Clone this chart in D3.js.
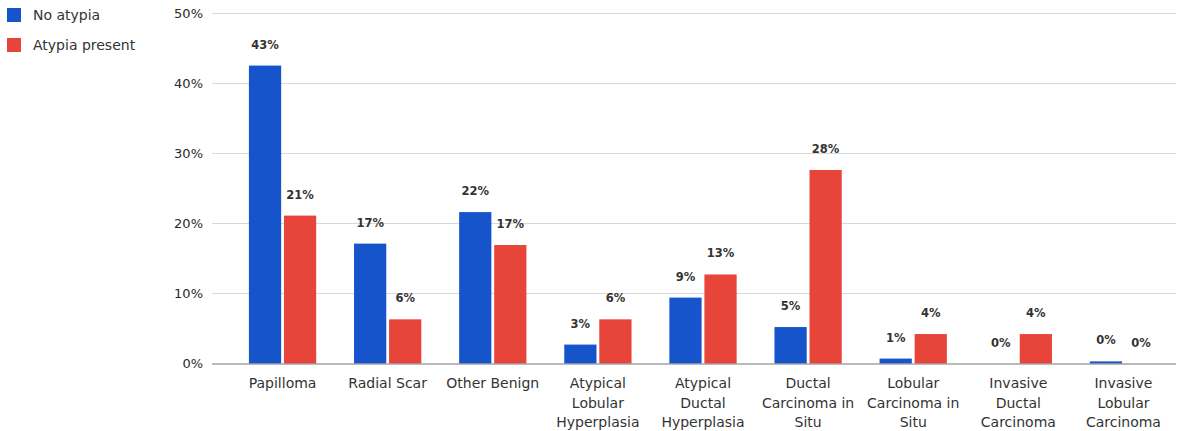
<!DOCTYPE html>
<html>
<head>
  <meta charset="utf-8">
  <title>Atypia by diagnosis</title>
  <script src="https://d3js.org/d3.v7.min.js"></script>
  <style>
    body { margin: 0; background: #fff; }
    text { font-family: "DejaVu Sans", Verdana, sans-serif; }
  </style>
</head>
<body>
<svg id="chart"></svg>
<script>
var width = 1186, height = 431;

// data
var categories = [
  ["Papilloma"],
  ["Radial Scar"],
  ["Other Benign"],
  ["Atypical", "Lobular", "Hyperplasia"],
  ["Atypical", "Ductal", "Hyperplasia"],
  ["Ductal", "Carcinoma in", "Situ"],
  ["Lobular", "Carcinoma in", "Situ"],
  ["Invasive", "Ductal", "Carcinoma"],
  ["Invasive", "Lobular", "Carcinoma"]
];
var seriesNames = ["No atypia", "Atypia present"];
var noAtypia = [42.5, 17.1, 21.6, 2.7, 9.4, 5.2, 0.7, 0, 0.3];
var atypiaPresent = [21.1, 6.3, 16.9, 6.3, 12.7, 27.6, 4.2, 4.2, 0];
var yTicks = [0, 10, 20, 30, 40, 50];
var colors = ["#1654cc", "#e8453a"];

var series = [noAtypia, atypiaPresent];

var svg = d3.select("#chart").attr("width", width).attr("height", height);

var x = d3.scaleBand()
  .domain(d3.range(categories.length))
  .range([230, 1176])
  .paddingInner(0.36)
  .paddingOuter(0.18);

var xs = d3.scaleBand()
  .domain(d3.range(series.length))
  .range([0, x.bandwidth()])
  .paddingInner(0.08);

var y = d3.scaleLinear().domain([0, 50]).range([363.5, 13]);

// gridlines
svg.append("g").selectAll("line").data(yTicks.slice(1)).enter().append("line")
  .attr("x1", 212).attr("x2", 1176)
  .attr("y1", function(d) { return Math.round(y(d)) + 0.5; })
  .attr("y2", function(d) { return Math.round(y(d)) + 0.5; })
  .style("stroke", "#d9d9d9").style("stroke-width", 1);

// y labels
svg.append("g").selectAll("text").data(yTicks).enter().append("text")
  .attr("x", 203)
  .attr("y", function(d) { return y(d); })
  .attr("dy", "0.35em")
  .attr("text-anchor", "end")
  .style("font-size", "13px")
  .style("fill", "#2a2a2a")
  .text(function(d) { return d + "%"; });

// bars
var groups = svg.append("g").selectAll("g").data(series).enter().append("g")
  .attr("fill", function(d, i) { return colors[i]; });

groups.each(function(vals, si) {
  d3.select(this).selectAll("rect").data(vals).enter().append("rect")
    .attr("x", function(d, i) { return x(i) + xs(si); })
    .attr("y", function(d) { return y(d); })
    .attr("width", xs.bandwidth())
    .attr("height", function(d) { return y(0) - y(d); });

  d3.select(this.parentNode).append("g").selectAll("text").data(vals).enter().append("text")
    .attr("x", function(d, i) { return x(i) + xs(si) + xs.bandwidth() / 2; })
    .attr("y", function(d) { return y(d) - 17; })
    .attr("text-anchor", "middle")
    .style("font-size", "11.5px")
    .style("font-weight", "bold")
    .style("fill", "#333")
    .text(function(d) { return Math.round(d) + "%"; });
});

// baseline
svg.append("line")
  .attr("x1", 212).attr("x2", 1176)
  .attr("y1", 364).attr("y2", 364)
  .style("stroke", "#777").style("stroke-width", 1.2);

// category labels
var cat = svg.append("g").selectAll("text").data(categories).enter().append("text")
  .attr("x", function(d, i) { return x(i) + x.bandwidth() / 2; })
  .attr("y", 388)
  .attr("text-anchor", "middle")
  .style("font-size", "14px")
  .style("fill", "#333");
cat.selectAll("tspan").data(function(d) { return d; }).enter().append("tspan")
  .attr("x", function() { return d3.select(this.parentNode).attr("x"); })
  .attr("dy", function(d, i) { return i ? 19.5 : 0; })
  .text(function(d) { return d; });

// legend
var leg = svg.append("g").selectAll("g").data(seriesNames).enter().append("g")
  .attr("transform", function(d, i) { return "translate(7," + (8 + i * 30) + ")"; });
leg.append("rect").attr("width", 14).attr("height", 14)
  .attr("fill", function(d, i) { return colors[i]; });
leg.append("text").attr("x", 26).attr("y", 7).attr("dy", "0.35em")
  .style("font-size", "14px").style("fill", "#333")
  .text(function(d) { return d; });
</script>
</body>
</html>
